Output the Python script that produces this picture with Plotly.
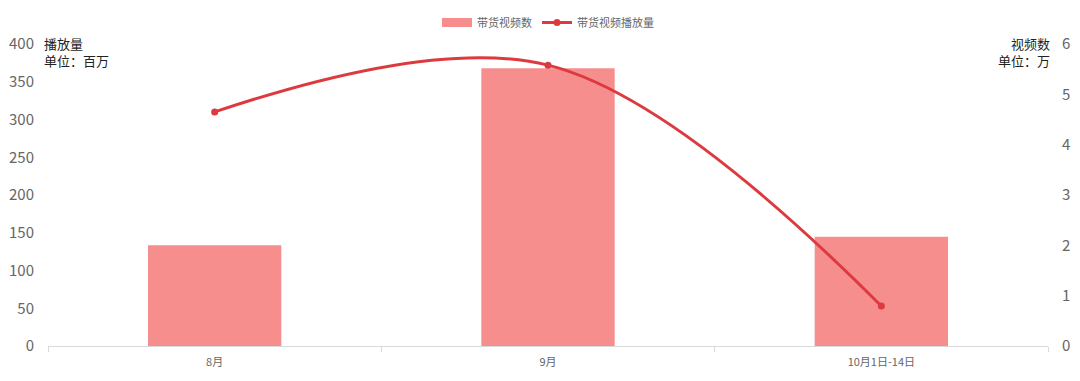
import plotly.graph_objects as go

categories = ["8月", "9月", "10月1日-14日"]
video_counts = [2.0, 5.52, 2.17]        # 带货视频数 (万)
video_plays = [310, 372, 53]            # 带货视频播放量 (百万)
left_ticks = [0, 50, 100, 150, 200, 250, 300, 350, 400]
right_ticks = [0, 1, 2, 3, 4, 5, 6]

BAR_COLOR = "#F78E8E"
LINE_COLOR = "#DD3A3F"
FONT = "Noto Sans CJK SC"

fig = go.Figure()
fig.add_trace(go.Bar(
    x=categories, y=video_counts, name="带货视频数", yaxis="y",
    marker=dict(color=BAR_COLOR, line=dict(width=0)), width=0.4, showlegend=False,
))
# legend stand-in for the bar series (wide rectangle symbol)
fig.add_trace(go.Scatter(
    x=[None], y=[None], name="带货视频数", yaxis="y", mode="lines",
    line=dict(color=BAR_COLOR, width=9),
))
fig.add_trace(go.Scatter(
    x=categories, y=video_plays, name="带货视频播放量", yaxis="y2",
    mode="lines+markers", line=dict(color=LINE_COLOR, width=3, shape="spline", smoothing=1.05),
    marker=dict(size=7, color=LINE_COLOR),
))
fig.update_layout(
    width=1072, height=373,
    margin=dict(l=40, r=32, t=36, b=35),
    paper_bgcolor="white", plot_bgcolor="white",
    font=dict(family=FONT, color="#666666", size=13),
    showlegend=True,
    legend=dict(orientation="h", x=0.5, xanchor="center", y=1.0, yanchor="top",
                yref="container", font=dict(size=11, color="#666666"),
                traceorder="normal", itemwidth=30, borderwidth=0),
    xaxis=dict(showgrid=False, showline=True, linecolor="#D9D9D9", linewidth=1,
               ticks="outside", tickson="boundaries", tickcolor="#D9D9D9", ticklen=5,
               ticklabelstandoff=6,
               tickfont=dict(size=11, color="#666666"), automargin=False),
    yaxis=dict(range=[0, 6], tickvals=right_ticks, side="right",
               showgrid=False, zeroline=False, showline=False, automargin=False,
               ticks="outside", ticklen=10, tickcolor="rgba(0,0,0,0)",
               tickfont=dict(size=15, color="#666666")),
    yaxis2=dict(range=[0, 400], tickvals=left_ticks, overlaying="y", side="left",
                showgrid=False, zeroline=False, showline=False, automargin=False,
                ticks="outside", ticklen=10, tickcolor="rgba(0,0,0,0)",
                tickfont=dict(size=15, color="#666666")),
)
fig.add_annotation(x=0, y=1, xref="paper", yref="paper", xanchor="left", yanchor="middle",
                   text="播放量<br>单位：百万", showarrow=False, align="left",
                   font=dict(size=13, color="#222222"), yshift=-8, xshift=-6)
fig.add_annotation(x=1, y=1, xref="paper", yref="paper", xanchor="right", yanchor="middle",
                   text="视频数<br>单位：万", showarrow=False, align="right",
                   font=dict(size=13, color="#222222"), yshift=-8, xshift=4)
fig.write_html("out.html")
